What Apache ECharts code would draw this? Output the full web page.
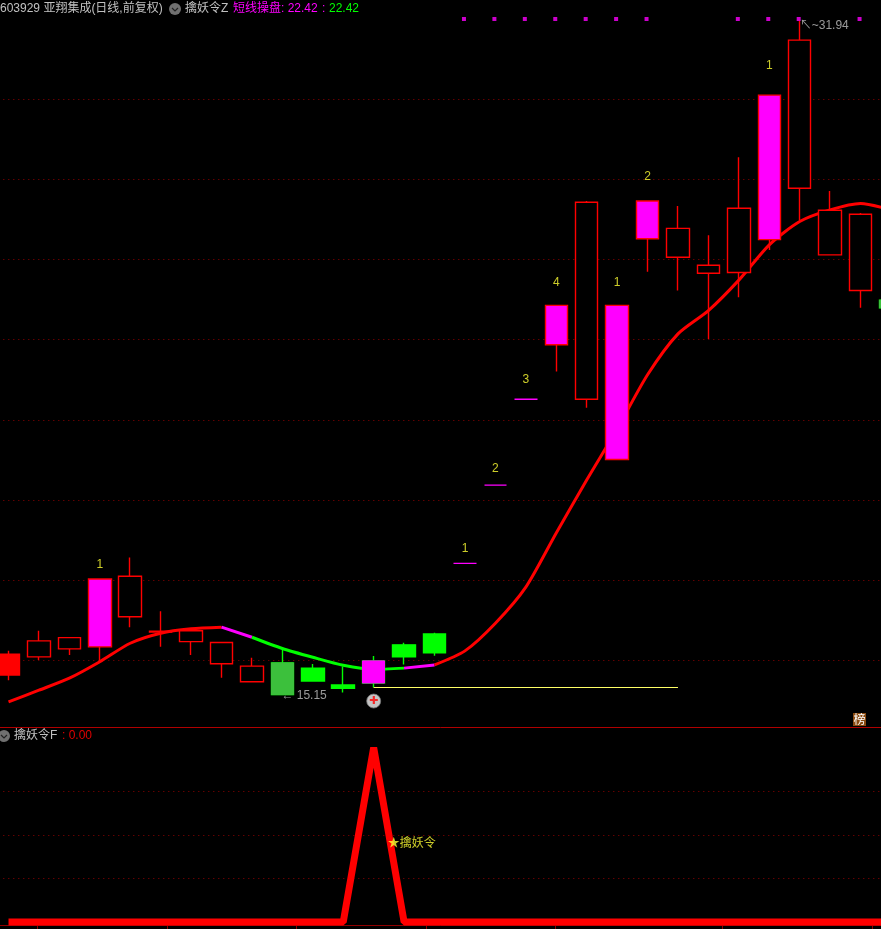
<!DOCTYPE html>
<html>
<head>
<meta charset="utf-8">
<style>
  html, body { margin: 0; padding: 0; background: #000; }
  #chart { width: 881px; height: 929px; }
</style>
<script src="https://cdn.jsdelivr.net/npm/echarts@6/dist/echarts.min.js"></script>
</head>
<body>
<div id="chart"></div>
<script>
var FONT = '"Liberation Sans", "Noto Sans CJK SC", sans-serif';
var RED = '#ff0000';
var MAGENTA = '#ff00ff';
var GREEN = '#00ff00';
var GRID_RED = '#900000';

var days = ['0', '1', '2', '3', '4', '5', '6', '7', '8', '9', '10', '11', '12', '13', '14',
  '15', '16', '17', '18', '19', '20', '21', '22', '23', '24', '25', '26', '27', '28', '29'];

var opens = [15.64, 16.09, 16.29, 16.34, 17.09, 16.71, 16.47, 16.45, 15.47, 15.94, 15.81, 15.39, 15.99, 16.39, 16.66,
  18.42, 20.37, 22.51, 23.87, 22.51, 21.01, 26.51, 26.05, 25.65, 25.67, 26.49, 27.77, 26.11, 25.22, 24.98];
var closes = [16.16, 16.49, 16.57, 18.03, 18.10, 16.73, 16.74, 15.92, 15.86, 15.15, 15.49, 15.31, 15.44, 16.09, 16.19,
  18.42, 20.37, 22.51, 24.85, 27.42, 24.85, 27.45, 26.77, 25.85, 27.27, 30.09, 31.46, 27.22, 27.12, 24.79];
var lows = [15.51, 16.01, 16.14, 15.95, 16.83, 16.34, 16.14, 15.57, 15.47, 15.15, 15.49, 15.20, 15.33, 15.90, 16.12,
  18.42, 20.37, 22.51, 23.20, 22.30, 21.01, 25.69, 25.22, 24.01, 25.05, 26.23, 26.98, 26.11, 24.79, 24.79];
var highs = [16.24, 16.74, 16.57, 18.03, 18.57, 17.23, 16.74, 16.45, 16.07, 16.29, 15.91, 15.85, 16.11, 16.44, 16.69,
  18.42, 20.37, 22.51, 24.85, 27.45, 24.85, 27.45, 27.33, 26.60, 28.54, 30.09, 31.94, 27.70, 27.15, 24.98];
var kinds = ['solid', 'hollow', 'hollow', 'magenta', 'hollow', 'hollow', 'hollow', 'hollow', 'hollow', 'dim', 'green', 'green', 'green', 'green', 'green',
  'flat', 'flat', 'flat', 'magenta', 'hollow', 'magenta', 'magenta', 'hollow', 'hollow', 'hollow', 'magenta', 'hollow', 'hollow', 'hollow', 'dim'];

var shortLine = [14.97, 15.26, 15.56, 15.97, 16.43, 16.68, 16.79, 16.83, 16.58, 16.30, 16.08, 15.88, 15.78, 15.81, 15.89,
  16.24, 16.93, 17.83, 19.18, 20.50, 21.77, 23.12, 24.14, 24.72, 25.48, 26.36, 26.94, 27.23, 27.39, 27.23];
// first and last day of each coloured stretch of the line
var segFrom = [0, 7, 8, 13, 14];
var segTo = [7, 8, 13, 14, 29];
var segColors = [RED, MAGENTA, GREEN, MAGENTA, RED];

var countDays = [3, 15, 16, 17, 18, 20, 21, 25];
var countPrices = [18.38, 18.78, 20.77, 22.99, 25.41, 25.41, 28.07, 30.82];
var countTexts = ['1', '1', '2', '3', '4', '1', '2', '1'];

var dotDays = [15, 16, 17, 18, 19, 20, 21, 24, 25, 26, 28];
var dotPrice = 32;

var supportDay = 12;
var supportEndDay = 22;
var supportPrice = 15.33;
var plusPrice = 14.99;

var signal = [0, 0, 0, 0, 0, 0, 0, 0, 0, 0, 0, 0, 1, 0, 0, 0, 0, 0, 0, 0, 0, 0, 0, 0, 0, 0, 0, 0, 0, 0];
var monthTicks = [0.96, 5.22, 9.47, 13.72, 17.96, 23.46, 28.39];

function candleStyle(kind) {
  var fill = '#000', border = RED;
  if (kind === 'solid') fill = RED;
  if (kind === 'magenta') fill = MAGENTA;
  if (kind === 'green') { fill = GREEN; border = GREEN; }
  if (kind === 'dim') { fill = '#3cc03c'; border = GREEN; }
  if (kind === 'flat') { fill = MAGENTA; border = MAGENTA; }
  return { color: fill, color0: fill, borderColor: border, borderColor0: border, borderWidth: 1.4 };
}

var candles = days.map(function (d, i) {
  return { value: [opens[i], closes[i], lows[i], highs[i]], itemStyle: candleStyle(kinds[i]) };
});

// bodies whose fill has no outline of the wick colour: painted again without wick
var bareBodies = [
  { day: 9, color: '#3cc03c' },
  { day: 12, color: MAGENTA },
  { day: 29, color: '#3cc03c' }
];
var bareData = days.map(function () { return [null, null, null, null]; });
bareBodies.forEach(function (b) {
  var top = Math.max(opens[b.day], closes[b.day]);
  var bottom = Math.min(opens[b.day], closes[b.day]);
  bareData[b.day] = {
    value: [bottom, top, bottom, top],
    itemStyle: { color: b.color, color0: b.color, borderColor: b.color, borderColor0: b.color, borderWidth: 1 }
  };
});

var lineSeries = segFrom.map(function (from, s) {
  return {
    type: 'line',
    xAxisIndex: 0,
    yAxisIndex: 0,
    z: 1,
    symbol: 'none',
    silent: true,
    smooth: 0.25,
    lineStyle: { color: segColors[s], width: 3, join: 'round' },
    data: shortLine.map(function (v, i) { return i >= from && i <= segTo[s] ? v : null; })
  };
});

function noteSeries(points, xIdx, yIdx) {
  return {
    type: 'scatter',
    xAxisIndex: xIdx,
    yAxisIndex: yIdx,
    z: 6,
    clip: false,
    silent: true,
    symbolSize: 0,
    data: points
  };
}

var countPoints = countDays.map(function (d, i) {
  return {
    value: [d, countPrices[i]],
    label: { show: true, position: 'inside', formatter: countTexts[i], color: '#ffff33', fontFamily: FONT, fontSize: 12 }
  };
});

var priceNotes = [
  {
    value: [26, 31.94],
    label: { show: true, position: 'right', distance: 0, offset: [0, 5], formatter: '↖~31.94', color: '#c0c0c0', fontFamily: FONT, fontSize: 12 }
  },
  {
    value: [9, 15.15],
    label: { show: true, position: 'right', distance: 0, offset: [-1, 1], formatter: '← 15.15', color: '#c0c0c0', fontFamily: FONT, fontSize: 12 }
  }
];

var option = {
  backgroundColor: '#000',
  animation: false,
  grid: [
    { left: -6.7, width: 912.9, top: 18.5, height: 722.25, outerBoundsMode: 'none' },
    { left: -6.7, width: 912.9, top: 747.5, height: 174.5, outerBoundsMode: 'none' }
  ],
  xAxis: [
    { type: 'category', gridIndex: 0, data: days, show: false },
    { type: 'category', gridIndex: 1, data: days, show: false },
    {
      type: 'value',
      gridIndex: 1,
      position: 'bottom',
      min: -0.5,
      max: 29.5,
      offset: 3,
      axisLine: { show: true, onZero: false, lineStyle: { color: GRID_RED } },
      axisTick: { show: true, length: 4, customValues: monthTicks, lineStyle: { color: GRID_RED } },
      axisLabel: { show: false },
      splitLine: { show: false }
    }
  ],
  yAxis: [
    {
      type: 'value',
      gridIndex: 0,
      min: 14,
      max: 32,
      interval: 2,
      axisLine: { show: false },
      axisTick: { show: false },
      axisLabel: { show: false },
      splitLine: {
        show: true,
        showMinLine: false,
        showMaxLine: false,
        lineStyle: { color: GRID_RED, type: [1, 4], width: 1 }
      }
    },
    {
      type: 'value',
      gridIndex: 1,
      min: 0,
      max: 1,
      interval: 0.25,
      axisLine: { show: false },
      axisTick: { show: false },
      axisLabel: { show: false },
      splitLine: {
        show: true,
        showMinLine: false,
        showMaxLine: false,
        lineStyle: { color: GRID_RED, type: [1, 4], width: 1 }
      }
    }
  ],
  series: lineSeries.concat([
    {
      type: 'candlestick',
      xAxisIndex: 0,
      yAxisIndex: 0,
      z: 3,
      barWidth: 23,
      silent: true,
      data: candles,
      markLine: {
        silent: true,
        symbol: 'none',
        animation: false,
        label: { show: false },
        lineStyle: { color: '#ffff66', type: 'solid', width: 1 },
        data: [[{ coord: [supportDay, supportPrice] }, { coord: [supportEndDay, supportPrice] }]]
      }
    },
    {
      type: 'candlestick',
      xAxisIndex: 0,
      yAxisIndex: 0,
      z: 4,
      barWidth: 23,
      silent: true,
      data: bareData
    },
    {
      type: 'scatter',
      xAxisIndex: 0,
      yAxisIndex: 0,
      z: 5,
      clip: false,
      silent: true,
      symbol: 'rect',
      symbolSize: 4,
      symbolOffset: [-1, 0.5],
      itemStyle: { color: MAGENTA },
      data: dotDays.map(function (d) { return [d, dotPrice]; })
    },
    noteSeries(countPoints, 0, 0),
    noteSeries(priceNotes, 0, 0),
    {
      type: 'scatter',
      xAxisIndex: 0,
      yAxisIndex: 0,
      z: 6,
      clip: false,
      silent: true,
      symbol: 'circle',
      symbolSize: 14,
      itemStyle: { color: '#f4f4f4', borderColor: '#777', borderWidth: 1 },
      label: {
        show: true,
        position: 'inside',
        formatter: '✚',
        color: RED,
        fontFamily: '"DejaVu Sans", sans-serif',
        fontSize: 11
      },
      data: [[supportDay, plusPrice]]
    },
    {
      type: 'line',
      xAxisIndex: 1,
      yAxisIndex: 1,
      z: 3,
      clip: false,
      symbol: 'none',
      silent: true,
      lineStyle: { color: RED, width: 7, join: 'bevel', cap: 'butt' },
      data: signal
    },
    noteSeries([{
      value: [supportDay, 0.45],
      label: {
        show: true,
        position: 'right',
        distance: 0,
        offset: [14, 0],
        formatter: '★擒妖令',
        color: '#ffff33',
        fontFamily: FONT,
        fontSize: 12
      }
    }], 1, 1)
  ]),
  graphic: [
    { type: 'line', silent: true, shape: { x1: 0, y1: 727.5, x2: 881, y2: 727.5 }, style: { stroke: '#b00000', lineWidth: 1 } },
    { type: 'text', silent: true, x: 0, y: 3, style: { text: '603929 亚翔集成(日线,前复权)', fill: '#c0c0c0', font: '12px ' + FONT } },
    { type: 'circle', silent: true, shape: { cx: 175, cy: 9, r: 6 }, style: { fill: '#707070' } },
    { type: 'polyline', silent: true, shape: { points: [[172, 8], [175, 11], [178, 8]] }, style: { stroke: '#222', fill: 'none', lineWidth: 1.2 } },
    { type: 'text', silent: true, x: 185, y: 3, style: { text: '擒妖令Z', fill: '#c0c0c0', font: '12px ' + FONT } },
    { type: 'text', silent: true, x: 233, y: 3, style: { text: '短线操盘: 22.42', fill: MAGENTA, font: '12px ' + FONT } },
    { type: 'text', silent: true, x: 322, y: 3, style: { text: ':', fill: MAGENTA, font: '12px ' + FONT } },
    { type: 'text', silent: true, x: 329, y: 3, style: { text: '22.42', fill: GREEN, font: '12px ' + FONT } },
    { type: 'circle', silent: true, shape: { cx: 4, cy: 736, r: 6 }, style: { fill: '#707070' } },
    { type: 'polyline', silent: true, shape: { points: [[1, 735], [4, 738], [7, 735]] }, style: { stroke: '#222', fill: 'none', lineWidth: 1.2 } },
    { type: 'text', silent: true, x: 14, y: 730, style: { text: '擒妖令F', fill: '#c0c0c0', font: '12px ' + FONT } },
    { type: 'text', silent: true, x: 62, y: 730, style: { text: ': 0.00', fill: '#e00000', font: '12px ' + FONT } },
    { type: 'rect', silent: true, shape: { x: 853, y: 713, width: 13, height: 13 }, style: { fill: '#8a4a10' } },
    { type: 'text', silent: true, x: 853.5, y: 713, style: { text: '榜', fill: '#fff', font: '12px "Noto Sans CJK SC", sans-serif' } }
  ]
};

var chart = echarts.init(document.getElementById('chart'), null, { renderer: 'canvas' });
chart.setOption(option);
</script>
</body>
</html>
